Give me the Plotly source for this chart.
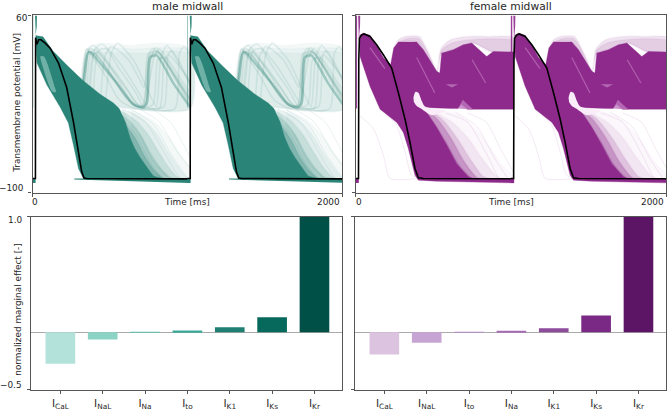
import plotly.graph_objects as go

# ---------- bar data ----------
male_labels = ["I<sub>CaL</sub>", "I<sub>NaL</sub>", "I<sub>Na</sub>", "I<sub>to</sub>", "I<sub>K1</sub>", "I<sub>Ks</sub>", "I<sub>Kr</sub>"]
male_effect = [-0.273, -0.063, -0.004, 0.014, 0.043, 0.129, 1.0]
male_bar_colors = ["#b2e2da", "#8ad3c5", "#5ebfb0", "#3ba99a", "#1f7f72", "#06695c", "#005048"]
female_labels = ["I<sub>CaL</sub>", "I<sub>NaL</sub>", "I<sub>to</sub>", "I<sub>Na</sub>", "I<sub>K1</sub>", "I<sub>Ks</sub>", "I<sub>Kr</sub>"]
female_effect = [-0.193, -0.092, -0.001, 0.011, 0.034, 0.144, 1.0]
female_bar_colors = ["#dcc3e0", "#c6a5d4", "#b58cc4", "#a56cb3", "#8e4b9c", "#7a2a85", "#5c1565"]

# ---------- beat-relative voltage envelopes: (ms after upstroke, mV) ----------
M_BLACK_T = [-20, -1, 0, 2, 9, 20, 35, 62, 94, 148, 201, 245, 277, 298, 313, 330, 980]
M_BLACK_V = [-87, -87, 40, 39, 34, 38, 38, 35, 30.5, 17, -5, -36.5, -63, -81, -86.6, -87, -87.4]
M_CORE_T = [0, 9, 48, 112, 203, 306, 417, 503, 540, 580, 610, 640, 675, 720, 761, 850, 380, 340, 309, 277, 245, 212, 160, 74, 9, 4]
M_CORE_V = [42, 41.6, 40.7, 28, 15, 1.4, -11, -19, -24, -36, -50, -60, -68, -77, -85, -88, -88, -88, -87, -78, -57, -37, -23, -3, 17, 30]
M_STREAK_T = [28, 54, 125, 132, 106, 41]
M_STREAK_V = [23, 23, -5, -9, -8.5, 16]
M_REST_T = [250, 1000, 1000, 600, 250]
M_REST_V = [-87, -87, -91, -89.5, -88]
REST_PRE_T = [-20, 0, 0, -20]
REST_PRE_V = [-87, -87, -91, -91]
M_SPIKE_T = [-4, 9, 8, 4, 0, -1]
M_SPIKE_V = [60, 60, 50, 42, 42, 50]
M_COLUMN_T = [-20, -15, -15, -20]
M_COLUMN_V = [60, 60, -23, -23]

M_HAZE_TOP_T = [
    [280, 330, 420, 600, 800, 1000],
    [290, 335, 420, 650, 820, 1000],
    [300, 340, 430, 700, 850, 1000],
]
M_HAZE_TOP_V = [
    [-5, 30, 35, 33, 35, 30],
    [-8, 28, 31, 30, 31, 28],
    [-12, 25, 27, 26, 28, 25],
]
M_HAZE_BOT_T = [1000, 700, 400]
M_HAZE_BOT_V = [-24, -25, -20]

M_FADE_T = [
    [470, 560, 620, 680, 740, 790, 840, 600],
    [490, 580, 650, 710, 770, 830, 880, 600],
    [510, 610, 680, 750, 810, 870, 920, 600],
    [530, 650, 730, 800, 860, 910, 960, 600],
    [560, 690, 780, 860, 920, 970, 1000, 600],
    [620, 760, 860, 930, 990, 1000, 1000, 600],
]
M_FADE_V = [
    [-23, -40, -55, -70, -82, -87, -88, -88],
    [-24, -38, -52, -68, -80, -87, -88, -88],
    [-24, -36, -48, -66, -78, -86, -88, -88],
    [-24, -35, -48, -64, -77, -85, -88, -88],
    [-24, -33, -46, -64, -76, -85, -88, -88],
    [-25, -35, -50, -64, -76, -80, -88, -88],
]

M_EAD_T = [
    [309, 320, 335, 350, 417, 524, 632, 696, 720, 739, 782, 890, 1000],
    [300, 325, 360, 470, 590, 650, 700, 725, 790, 900, 1000],
    [340, 370, 400, 520, 620, 680, 760, 790, 840, 950, 1000],
    [320, 345, 375, 500, 600, 660, 800, 830, 880, 1000],
    [350, 385, 430, 560, 660, 720, 745, 775, 870, 1000],
    [420, 450, 490, 600, 680, 700, 735, 760, 860, 1000],
    [300, 330, 350, 440, 540, 640, 900, 930, 960, 1000],
    [450, 490, 530, 640, 720, 780, 810, 850, 960, 1000],
    [310, 335, 400, 480, 570, 640, 690, 750, 800, 920, 1000],
    [305, 322, 345, 430, 500, 610, 670, 712, 735, 790, 910, 1000],
    [370, 405, 455, 540, 640, 700, 765, 800, 880, 1000],
    [330, 355, 385, 470, 555, 650, 700, 830, 860, 960, 1000],
]
M_EAD_V = [
    [-1, 10, 25, 27, 17, -1, -20, -23, -18, 22, 24, -1, -23],
    [-5, 28, 30, 10, -15, -22, -20, 25, 28, 5, -18],
    [-15, 24, 27, 5, -18, -24, -20, 20, 22, 0, -10],
    [-8, 30, 33, 12, -8, -20, -24, 18, 28, -2],
    [-14, 30, 34, 14, -8, -21, 20, 31, 10, -22],
    [-16, 24, 32, 20, 0, -5, 26, 30, 14, -16],
    [-4, 30, 26, 8, -16, -24, -24, 26, 32, 24],
    [-20, 26, 35, 18, -6, -22, 22, 33, 8, 0],
    [-2, 27, 24, 8, -12, -22, -22, 24, 26, 0, -20],
    [-4, 18, 28, 18, 5, -17, -23, -20, 24, 27, 2, -16],
    [-18, 28, 30, 12, -8, -22, 22, 30, 12, -14],
    [-9, 26, 29, 16, 0, -19, -24, -22, 24, 8, -4],
]
M_DECAY_T = [
    [560, 650, 760, 860],
    [600, 720, 840, 930],
    [620, 760, 880, 985],
    [680, 800, 920, 1000],
    [760, 870, 970, 1000],
    [520, 640, 740, 810],
]
M_DECAY_V = [
    [-27, -42, -72, -87],
    [-26, -38, -66, -87],
    [-25, -38, -66, -87],
    [-25, -36, -64, -78],
    [-25, -36, -60, -68],
    [-27, -46, -72, -87],
]

F_BLACK_T = [-20, -2, 0, 4, 19, 34, 72, 115, 158, 212, 255, 298, 330, 362, 384, 416, 980]
F_BLACK_V = [-87, -87, 20, 39.4, 42.4, 43.3, 41, 33.5, 24.5, 12.6, -9.7, -33.6, -54.4, -78, -86.3, -87, -87.3]
F_CORE_T = [4, 30, 72, 115, 158, 205, 225, 255, 373, 416, 502, 522, 534, 609, 674, 728, 824, 867, 1000, 1000, 700, 660, 640, 600, 416, 502, 566, 630, 706, 739, 1000, 1000, 500, 384, 362, 319, 287, 245, 137, 72, 8]
F_CORE_V = [42, 44, 42, 33, 22, 15.6, 30.5, 36, 36, 29, 9.6, 8, 26, 29, 33.5, 35, 23, 27.5, 27, -24.6, -24.6, -20, -24, -24, -23, -41, -57, -74, -85.7, -87.2, -87.4, -91, -89.5, -88.5, -84, -60, -45.5, -36.5, -24.6, -3.8, 23]
F_BLOB_T = [352, 365, 385, 405, 425, 470, 560, 470, 400, 375, 355]
F_BLOB_V = [-14, -9, -10, -17, -22, -24, -26, -30, -24, -22, -18]
F_HAZE_T = [
    [225, 255, 300, 390, 450, 505, 530, 590, 700, 850, 1000, 1000, 860, 730, 610, 534, 500, 416, 370, 255],
    [225, 260, 310, 385, 440, 505, 530, 600, 710, 860, 1000, 1000, 860, 730, 610, 534, 500, 416, 370, 255],
]
F_HAZE_V = [
    [30, 38, 41, 41, 26, 10, 30, 38, 41, 41, 40, 26, 27, 35, 29, 26, 9, 29, 36, 36],
    [30, 36, 39, 39, 28, 10, 28, 35, 38, 39, 37, 26, 27, 35, 29, 26, 9, 29, 36, 36],
]
F_SPIKE_T = [-4, 9, 8, 4, 0, -2]
F_SPIKE_V = [60, 60, 50, 38, 38, 50]
F_COLUMN_T = [-20, -11, -11, -20]
F_COLUMN_V = [60, 60, -24, -24]
F_FADE_T = [
    [416, 480, 560, 640, 720, 770, 500],
    [420, 510, 600, 680, 760, 810, 500],
    [430, 540, 640, 720, 800, 860, 500],
    [450, 600, 700, 800, 880, 930, 500],
    [480, 650, 800, 930, 1000, 1000, 500],
]
F_FADE_V = [
    [-23, -36, -54, -74, -86, -88, -88],
    [-24, -34, -52, -72, -86, -88, -88],
    [-24, -34, -52, -70, -85, -88, -88],
    [-25, -36, -50, -70, -84, -88, -88],
    [-25, -30, -50, -76, -85, -88, -88],
]
F_STREAK_T = [[72, 168], [373, 490], [730, 818]]
F_STREAK_V = [[31, 12], [22, -10], [20, -1]]
F_BUMP_T = [[640, 670, 700, 740], [560, 600, 640]]
F_BUMP_V = [[-24, -16, -20, -25], [-2, -5, -2]]
F_FAINT_T = [[8, 94, 158, 201, 384], [180, 240, 300, 340, 420], [560, 700, 820, 900], [700, 820, 920, 1000], [620, 760, 880, 960]]
F_FAINT_V = [[-30.6, -42, -66, -87, -87], [-30, -38, -64, -84, -87], [-28, -36, -64, -87], [-28, -36, -62, -82], [-27, -40, -70, -87]]

MALE = "42,132,120"
FEMALE = "142,42,140"
BEATS = [20, 1020]


def shift(ts, offset):
    return [t + offset for t in ts]


fig = go.Figure()


def add_fill(ax, ts, vs, rgb, alpha, smooth=False, edge=0):
    line = dict(width=edge, color=f"rgba({rgb},{alpha * 0.35})")
    if smooth:
        line.update(shape="spline", smoothing=0.7)
    for b in BEATS:
        fig.add_trace(go.Scatter(x=shift(ts, b), y=vs, fill="toself", mode="lines",
                                 line=line, fillcolor=f"rgba({rgb},{alpha})",
                                 xaxis=f"x{ax}", yaxis=f"y{ax}", hoverinfo="skip", showlegend=False))


def add_line(ax, ts, vs, rgb, alpha, width):
    for b in BEATS:
        fig.add_trace(go.Scatter(x=shift(ts, b), y=vs, mode="lines",
                                 line=dict(width=width, color=f"rgba({rgb},{alpha})", shape="spline", smoothing=0.6),
                                 xaxis=f"x{ax}", yaxis=f"y{ax}", hoverinfo="skip", showlegend=False))


def add_black(ax, ts, vs):
    for b in BEATS:
        fig.add_trace(go.Scatter(x=shift(ts, b), y=vs, mode="lines",
                                 line=dict(width=1.6, color="black"),
                                 xaxis=f"x{ax}", yaxis=f"y{ax}", hoverinfo="skip", showlegend=False))


# male top
for t, v in zip(M_HAZE_TOP_T, M_HAZE_TOP_V):
    add_fill(1, t + M_HAZE_BOT_T, v + M_HAZE_BOT_V, MALE, 0.05, smooth=True, edge=2)
for i, (t, v) in enumerate(zip(M_EAD_T, M_EAD_V)):
    add_line(1, t, v, MALE, 0.36 if i == 0 else 0.11, 2.5 if i == 0 else 1.6)
alphas = [0.45, 0.3, 0.2, 0.14, 0.09, 0.05]
for t, v, a in zip(M_FADE_T, M_FADE_V, alphas):
    add_fill(1, t, v, MALE, a, smooth=True, edge=2)
for t, v in zip(M_DECAY_T, M_DECAY_V):
    add_line(1, t, v, MALE, 0.1, 1)
add_fill(1, M_REST_T, M_REST_V, MALE, 1)
add_fill(1, REST_PRE_T, REST_PRE_V, MALE, 1)
add_fill(1, M_CORE_T, M_CORE_V, MALE, 1, edge=1)
add_fill(1, M_STREAK_T, M_STREAK_V, "180,220,214", 0.5, smooth=True)
add_fill(1, M_SPIKE_T, M_SPIKE_V, MALE, 0.9)
add_fill(1, M_COLUMN_T, M_COLUMN_V, MALE, 0.6)
add_black(1, M_BLACK_T, M_BLACK_V)

# female top
for t, v in zip(F_HAZE_T, F_HAZE_V):
    add_fill(2, t, v, FEMALE, 0.12, smooth=True, edge=2)
alphas = [0.45, 0.3, 0.18, 0.08, 0.035]
for t, v, a in zip(F_FADE_T, F_FADE_V, alphas):
    add_fill(2, t, v, FEMALE, a, smooth=True, edge=2)
for t, v in zip(F_FAINT_T, F_FAINT_V):
    add_line(2, t, v, FEMALE, 0.1, 1)
add_fill(2, REST_PRE_T, REST_PRE_V, FEMALE, 1)
add_fill(2, F_CORE_T, F_CORE_V, FEMALE, 1, edge=1)
add_fill(2, F_BLOB_T, F_BLOB_V, "250,236,249", 1, smooth=True)
for t, v in zip(F_BUMP_T, F_BUMP_V):
    add_fill(2, t, v, "190,120,190", 0.8)
for t, v in zip(F_STREAK_T, F_STREAK_V):
    add_line(2, t, v, "200,130,198", 0.6, 1.2)
add_fill(2, F_SPIKE_T, F_SPIKE_V, FEMALE, 0.9)
add_fill(2, F_COLUMN_T, F_COLUMN_V, FEMALE, 0.9)
add_black(2, F_BLACK_T, F_BLACK_V)

# bars
fig.add_trace(go.Bar(x=list(range(7)), y=male_effect, width=0.7, marker=dict(color=male_bar_colors, line=dict(width=0)),
                     xaxis="x3", yaxis="y3", showlegend=False, hoverinfo="skip"))
fig.add_trace(go.Bar(x=list(range(7)), y=female_effect, width=0.7, marker=dict(color=female_bar_colors, line=dict(width=0)),
                     xaxis="x4", yaxis="y4", showlegend=False, hoverinfo="skip"))

W, H = 669, 411
TEXT = "#262626"
SPINE = "#555555"
FONT = "DejaVu Sans"


def dom(a, b, size):
    return [a / size, b / size]


def ydom(top, bottom):
    return [1 - bottom / H, 1 - top / H]


common = dict(showgrid=False, showline=True, linecolor=SPINE, linewidth=1.3, mirror=True, zeroline=False)
top_x = dict(common, range=[0, 2000], tickvals=[0, 2000], ticktext=["", ""], ticks="outside", ticklen=3, tickcolor=SPINE)
top_y = dict(common, range=[-100, 60], tickvals=[-100, 60], ticktext=["", ""], ticks="outside", ticklen=3, tickcolor=SPINE)
bar_y = dict(common, range=[-0.5, 1.0], tickvals=[-0.5, 1.0], ticktext=["", ""], ticks="outside", ticklen=3, tickcolor=SPINE)
bar_y.update(zeroline=True, zerolinecolor="#aaaaaa", zerolinewidth=1)


def bar_x(labels):
    return dict(common, range=[-0.7, 6.65], tickmode="array", tickvals=list(range(7)), ticktext=labels,
                ticks="outside", ticklen=3, tickcolor=SPINE, tickfont=dict(size=10.5, color=TEXT, family=FONT))


fig.update_layout(
    width=W, height=H, autosize=False, margin=dict(l=0, r=0, t=0, b=0),
    paper_bgcolor="white", plot_bgcolor="white", showlegend=False,
    font=dict(family=FONT, size=9, color=TEXT),
    xaxis=dict(top_x, domain=dom(32.5, 342, W), anchor="y"),
    yaxis=dict(top_y, domain=ydom(15.5, 194.3), anchor="x"),
    xaxis2=dict(top_x, domain=dom(355.7, 666, W), anchor="y2"),
    yaxis2=dict(top_y, domain=ydom(15.5, 194.3), anchor="x2"),
    xaxis3=dict(bar_x(male_labels), domain=dom(30.7, 342, W), anchor="y3"),
    yaxis3=dict(bar_y, domain=ydom(218.3, 392.7), anchor="x3"),
    xaxis4=dict(bar_x(female_labels), domain=dom(354.7, 666, W), anchor="y4"),
    yaxis4=dict(bar_y, domain=ydom(218.3, 392.7), anchor="x4"),
)


def note(text, x, y, xanchor="center", size=8.9, angle=0):
    fig.add_annotation(text=text, x=x / W, y=1 - y / H, xref="paper", yref="paper", showarrow=False,
                       xanchor=xanchor, yanchor="middle", textangle=angle, font=dict(size=size, color=TEXT, family=FONT))


note("male midwall", 187, 6.5, size=10.7)
note("female midwall", 510.5, 6.5, size=10.7)
note("60", 30, 18.5, "right")
note("−100", 25.7, 189, "right")
note("1.0", 24, 221.5, "right")
note("−0.5", 24, 388, "right")
note("Transmembrane potential [mV]", 17.5, 104, angle=-90)
note("normalized marginal effect [-]", 18, 312, angle=-90)
note("0", 34.5, 203.5)
note("Time [ms]", 187, 203.5)
note("2000", 342, 203.5, "right")
note("0", 358.5, 203.5)
note("Time [ms]", 511, 203.5)
note("2000", 666, 203.5, "right")

fig.write_html("out.html", config={"displayModeBar": False},
               post_script="document.body.style.margin='0';document.body.style.overflow='hidden';")
